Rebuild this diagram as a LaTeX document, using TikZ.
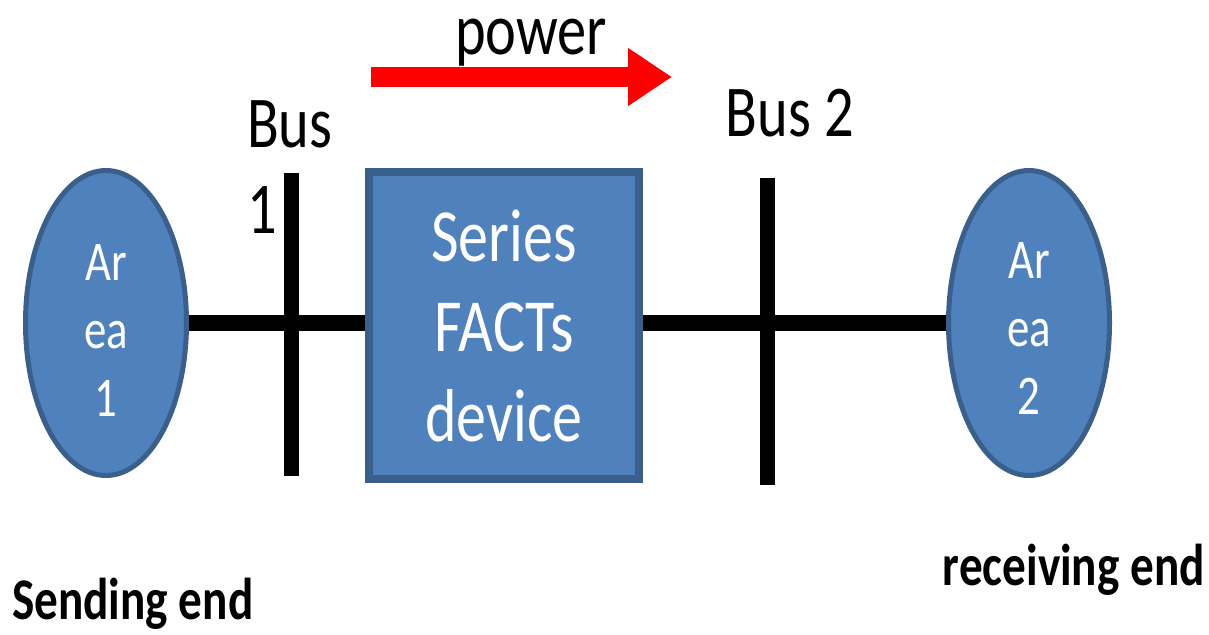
\documentclass[tikz,border=0pt]{standalone}
\usepackage{fontspec}
\setmainfont[FakeStretch=0.8]{Carlito}
\usetikzlibrary{shapes.geometric,arrows.meta}
\definecolor{areafill}{HTML}{4F81BD}
\definecolor{areaedge}{HTML}{3A5F8B}
\tikzset{
  area/.style={ellipse, draw=areaedge, line width=5pt, fill=areafill,
    minimum width=161pt, minimum height=305pt, inner sep=0pt},
  areatext/.style={text=white, align=center, inner sep=0pt,
    font=\fontsize{56}{68}\selectfont},
  device/.style={rectangle, draw=areaedge, line width=8pt, fill=areafill,
    minimum width=270pt, minimum height=307pt, text=white, align=center,
    font=\fontsize{75}{90}\selectfont},
  busbar/.style={line width=15pt, black},
  wire/.style={line width=16pt, black},
  flow/.style={line width=20pt, red, -{Triangle[length=44pt,width=55pt]}},
  lbl/.style={inner sep=0pt, font=\fontsize{73}{86}\selectfont},
  endlbl/.style={inner sep=0pt, font=\fontsize{59}{70}\selectfont\bfseries},
}
\begin{document}
\begin{tikzpicture}[x=1pt,y=-1pt]
\useasboundingbox (0,0) rectangle (1209,634);

% areas and the series device
\node[area] (a1) at (106,323) {};
\node[area] (a2) at (1029,323) {};
\node[device] (dev) at (504,325.5) {Series\\FACTs\\device};
\node[areatext] at ([yshift=-8pt]a1.center) {Ar\\ea\\1};
\node[areatext] at ([yshift=-6pt]a2.center) {Ar\\ea\\2};

% bus bars
\coordinate (b1t) at (291,173);
\coordinate (b1b) at (291,476);
\coordinate (b2t) at (767,178);
\coordinate (b2b) at (767,485);

% lines
\draw[wire] (a1.east) -- (dev.west |- a1.east);
\draw[wire] (dev.east |- a2.west) -- (a2.west);
\draw[busbar] (b1t) -- (b1b);
\draw[busbar] (b2t) -- (b2b);

% direction of power flow
\coordinate (p1) at (371,77);
\coordinate (p2) at (672,77);
\draw[flow] (p1) -- (p2);

% labels
\node[lbl, anchor=base] (pw) at (531,55) {power};
\node[lbl, anchor=base west] (bus1) at (247,147) {Bus};
\node[lbl, anchor=base west] (bus1n) at (247,233) {1};
\node[lbl, anchor=base] (bus2) at (790,136) {Bus 2};
\node[endlbl, anchor=base west] (send) at (12,619) {Sending end};
\node[endlbl, anchor=base east] (recv) at (1205,585) {receiving end};
\end{tikzpicture}
\end{document}
